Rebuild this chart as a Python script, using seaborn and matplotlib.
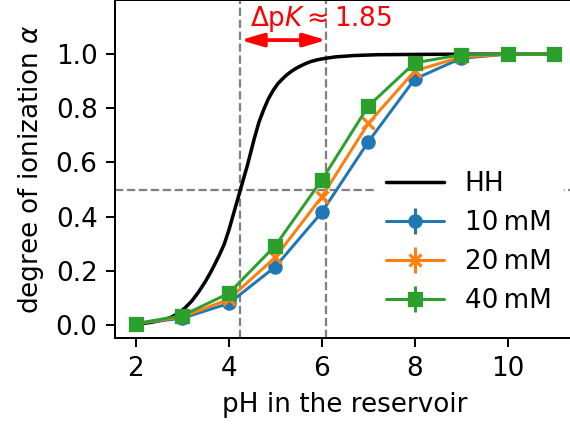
import matplotlib
matplotlib.use("Agg")
import matplotlib.pyplot as plt
import seaborn as sns
import pandas as pd

# Henderson-Hasselbalch reference curve (pH, alpha)
hh_ph = [2.0, 2.3, 2.6, 2.75, 2.9, 3.05, 3.2, 3.35, 3.5, 3.6, 3.7, 3.8,
         3.9, 4.0, 4.1, 4.25, 4.4, 4.55, 4.65, 4.75, 4.85, 4.95, 5.05,
         5.15, 5.25, 5.35, 5.45, 5.55, 5.65, 5.75, 5.9, 6.05, 6.3, 6.7,
         7.2, 8.0, 9.0, 10.0, 11.0]
hh_alpha = [0.003, 0.009, 0.019, 0.028, 0.042, 0.062, 0.088, 0.122, 0.162,
            0.192, 0.225, 0.26, 0.298, 0.35, 0.41, 0.50, 0.59, 0.69, 0.75,
            0.795, 0.835, 0.865, 0.89, 0.908, 0.924, 0.937, 0.948, 0.957,
            0.965, 0.972, 0.979, 0.984, 0.99, 0.995, 0.998, 0.999, 1.0,
            1.0, 1.0]

# simulated titration at different salt concentrations
ph = [2, 3, 4, 5, 6, 7, 8, 9, 10, 11]
alpha_10mM = [0.005, 0.025, 0.08, 0.215, 0.416, 0.676, 0.908, 0.985, 1.0, 1.0]
alpha_20mM = [0.005, 0.030, 0.095, 0.250, 0.473, 0.744, 0.938, 0.990, 1.0, 1.0]
alpha_40mM = [0.005, 0.035, 0.117, 0.293, 0.535, 0.808, 0.968, 0.998, 1.0, 1.0]
err = [0.004, 0.004, 0.005, 0.006, 0.006, 0.006, 0.005, 0.003, 0.002, 0.002]

series_labels = ["10\u2009mM", "20\u2009mM", "40\u2009mM"]
series_markers = ["o", "x", "s"]

pka_hh = 4.25
delta_pk = 1.85

FS = 10.5

sns.set_style("ticks")
plt.rcParams.update({
    "font.family": ["DejaVu Sans"],
    "text.color": "black",
    "axes.labelcolor": "black",
    "xtick.color": "black",
    "ytick.color": "black",
    "axes.edgecolor": "black",
    "font.size": FS,
    "xtick.labelsize": FS,
    "ytick.labelsize": FS,
    "axes.labelsize": FS,
    "legend.fontsize": FS,
    "mathtext.fontset": "dejavusans",
})

fig = plt.figure(figsize=(570 / 180, 427 / 180), dpi=180)
ax = fig.add_axes([115 / 570, 89 / 427, 460 / 570, 338 / 427])

palette = sns.color_palette("tab10")

hh_df = pd.DataFrame({"pH": hh_ph, "alpha": hh_alpha})
sns.lineplot(data=hh_df, x="pH", y="alpha", color="black", lw=1.4,
             label="HH", ax=ax, sort=False)

for vals, lab, mk, col in zip([alpha_10mM, alpha_20mM, alpha_40mM],
                              series_labels, series_markers, palette[:3]):
    ax.errorbar(ph, vals, yerr=err, marker=mk, ms=4.5, mew=1.3, lw=1.2,
                color=col, label=lab)

# guide lines at half ionization and at both pK values
ax.axhline(0.5, color="gray", ls="--", lw=0.9, zorder=0)
ax.axvline(pka_hh, color="gray", ls="--", lw=0.9, zorder=0)
ax.axvline(pka_hh + delta_pk, color="gray", ls="--", lw=0.9, zorder=0)

ax.annotate("", xy=(pka_hh, 1.052), xytext=(pka_hh + delta_pk, 1.052),
            arrowprops=dict(arrowstyle="<|-|>,head_length=0.75,head_width=0.22",
                            color="red", lw=1.5, shrinkA=0, shrinkB=0,
                            mutation_scale=10))
ax.text(4.45, 1.103, r"$\Delta\mathrm{p}K \approx 1.85$", color="red",
        ha="left", va="baseline", fontsize=FS)

ax.set_xlim(1.55, 11.45)
ax.set_ylim(-0.048, 1.2)
ax.set_xticks([2, 4, 6, 8, 10])
ax.set_yticks([0.0, 0.2, 0.4, 0.6, 0.8, 1.0])
ax.set_xlabel("pH in the reservoir")
ax.set_ylabel(r"degree of ionization $\alpha$")

leg = ax.legend(loc="lower right", frameon=True, framealpha=1,
                edgecolor="white", handlelength=2.2)

fig.savefig("out.png", dpi=180)
